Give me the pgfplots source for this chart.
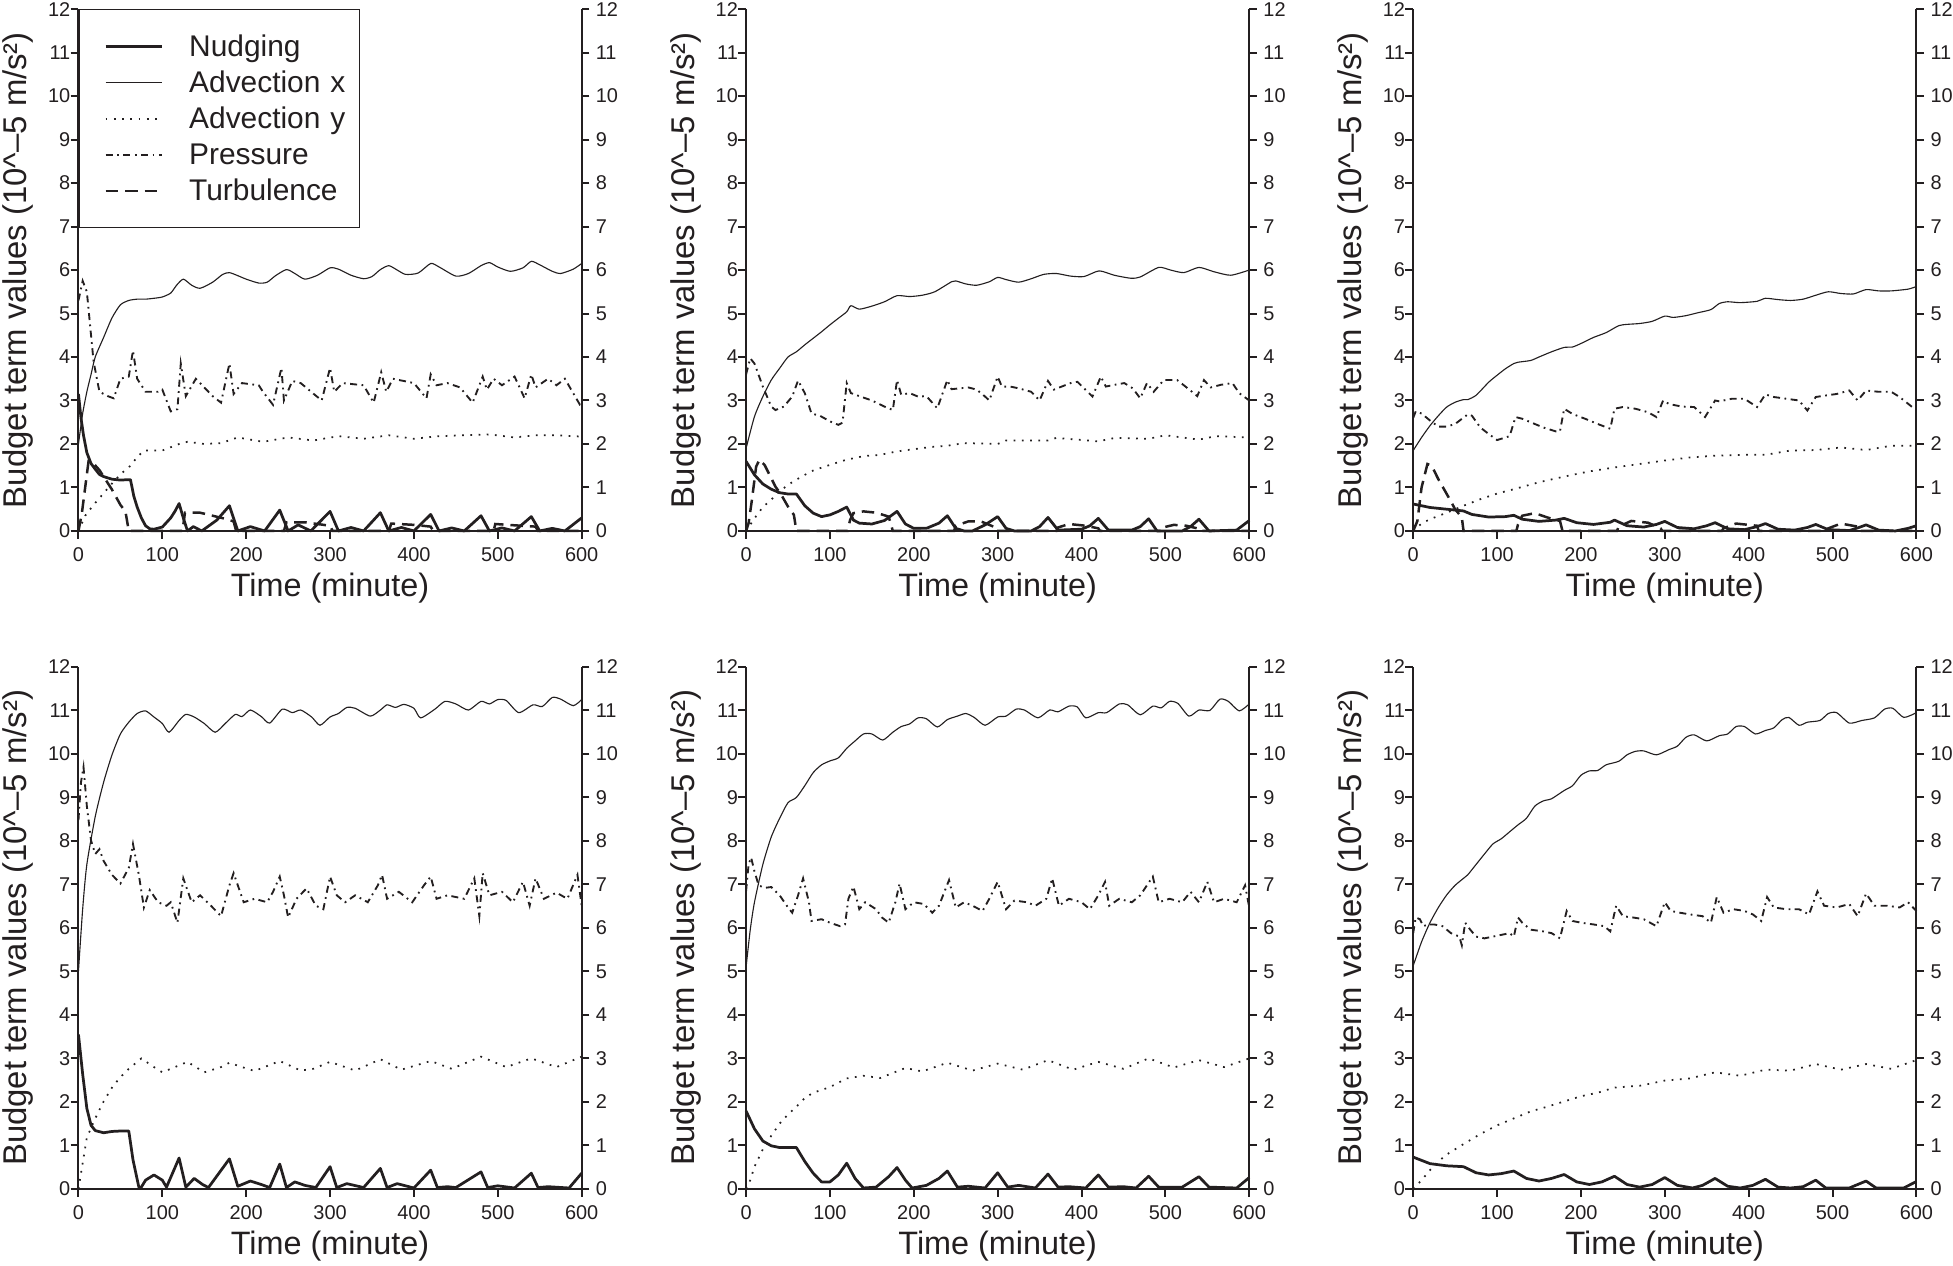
\documentclass[border=0pt]{standalone}
\usepackage{fontspec}
\setmainfont{Liberation Sans}
\usepackage{pgfplots}
\pgfplotsset{compat=1.18}
\definecolor{ink}{RGB}{35,31,32}
\tikzset{
 nud/.style={ink, line width=1.1pt, line join=round},
 advx/.style={ink, line width=0.45pt, smooth, tension=0.4},
 advy/.style={ink, line width=0.7pt, dash pattern=on 0.7pt off 2.6pt},
 pres/.style={ink, line width=0.75pt, dash pattern=on 2.8pt off 1.8pt on 0.7pt off 1.8pt},
 turb/.style={ink, line width=1pt, dash pattern=on 5pt off 2.8pt},
}
\pgfplotsset{
 base/.style={width=202pt,height=209.5pt,scale only axis,
   xmin=0,xmax=600,ymin=0,ymax=12,
   xtick={0,100,...,600}, ytick={0,1,...,12},
   tick align=outside, major tick length=3.1pt,
   tick style={line width=0.8pt, draw=ink},
   axis line style={-, line width=0.8pt, draw=ink},
   /pgf/number format/assume math mode=true,
   tick label style={font=\fontsize{8}{9.6}\selectfont, text=ink},
   clip=false},
 panelL/.style={base, axis x line*=bottom, axis y line*=left,
   yticklabel style={inner xsep=0pt},
   xlabel={Time (minute)},
   ylabel={Budget term values (10\textasciicircum{}–5 m/s²)},
   xlabel style={at={(axis description cs:0.5,-0.1265)}, anchor=base, font=\fontsize{13}{15}\selectfont, text=ink},
   ylabel style={at={(axis description cs:-0.1025,0.5)}, rotate=0, anchor=base, font=\fontsize{13.2}{15}\selectfont, text=ink}},
 panelR/.style={base, axis x line=none, axis y line*=right, xtick=\empty,
   ytick pos=right, yticklabel pos=right, yticklabel style={inner xsep=2.4pt}},
}
\newcommand{\rightaxis}[1]{\begin{axis}[panelR, at={#1}, anchor=south west]\addplot[draw=none] coordinates {(0,0)};\end{axis}}
\begin{document}
\begin{tikzpicture}
\useasboundingbox (0,0) rectangle (784pt,508pt);
% ---------------- Panel 1 ----------------
\begin{axis}[panelL, at={(31.5pt,294.85pt)}, anchor=south west,
  legend style={at={(0,1)}, anchor=north west, draw=ink, line width=0.5pt, fill=white,
    font=\fontsize{12}{14}\selectfont, inner xsep=0pt, inner ysep=7.5pt,
    cells={anchor=west}, nodes={inner sep=0pt, text height=11.25pt, text depth=3.25pt, text width=68.3pt, align=left, text=ink}},
  legend cell align=left,
  legend image code/.code={\path[draw=none,fill=none] (-10.7pt,0pt) -- (33.5pt,0pt); \draw[#1] (0pt,0pt) -- (22.4pt,0pt);}]
\addplot[nud] coordinates {(0,3.15) (3,2.6) (6,2.2) (10,1.8) (15,1.55) (20,1.42) (25,1.3) (30,1.25) (40,1.19) (50,1.17) (60,1.18) (62,1.18) (66,0.8) (70,0.55) (75,0.3) (80,0.12) (85,0.05) (90,0.04) (100,0.09) (110,0.3) (115,0.45) (120,0.63) (125,0.3) (130,0.0) (137,0.1) (147,0.0) (165,0.25) (180,0.58) (190,0.0) (205,0.1) (222,0.0) (240,0.48) (250,0.0) (262,0.14) (277,0.0) (300,0.45) (310,0.0) (325,0.08) (340,0.0) (360,0.42) (370,0.0) (385,0.08) (400,0.0) (420,0.38) (430,0.0) (445,0.07) (460,0.0) (480,0.35) (490,0.0) (505,0.07) (520,0.0) (540,0.33) (550,0.0) (565,0.06) (580,0.0) (600,0.3)};
\addplot[advx] coordinates {(0,2.0) (5,2.7) (10,3.2) (15,3.6) (20,4.0) (30,4.45) (40,4.9) (50,5.2) (60,5.3) (70,5.33) (80,5.33) (90,5.35) (100,5.38) (110,5.47) (117,5.65) (125,5.79) (135,5.65) (145,5.58) (160,5.72) (172,5.9) (180,5.94) (190,5.87) (200,5.79) (215,5.7) (225,5.72) (235,5.87) (248,6.01) (258,5.92) (270,5.79) (285,5.88) (300,6.05) (310,6.02) (325,5.88) (340,5.8) (350,5.85) (360,6.01) (370,6.1) (380,6.0) (390,5.9) (405,5.93) (420,6.15) (430,6.07) (450,5.86) (465,5.92) (480,6.1) (490,6.17) (500,6.07) (515,5.97) (530,6.05) (540,6.2) (550,6.12) (565,5.97) (575,5.92) (590,6.02) (600,6.15)};
\addplot[advy] coordinates {(0,0) (8,0.35) (18,0.6) (27,0.8) (38,1.05) (50,1.3) (62,1.5) (70,1.7) (78,1.85) (100,1.85) (120,2.0) (130,2.05) (150,2.0) (170,2.02) (190,2.15) (220,2.05) (250,2.15) (280,2.08) (310,2.18) (340,2.12) (370,2.2) (400,2.12) (430,2.18) (460,2.2) (490,2.22) (520,2.15) (545,2.2) (570,2.2) (600,2.17)};
\addplot[pres] coordinates {(0,5.3) (5,5.75) (10,5.5) (18,3.9) (25,3.2) (35,3.1) (42,3.05) (50,3.5) (60,3.55) (65,4.15) (70,3.5) (80,3.2) (95,3.2) (100,3.25) (110,2.75) (118,2.8) (122,3.85) (128,3.1) (140,3.5) (160,3.1) (170,2.95) (180,3.85) (185,3.15) (195,3.4) (215,3.35) (220,3.2) (232,2.9) (242,3.75) (245,3.0) (255,3.45) (265,3.4) (290,3.0) (300,3.75) (305,3.2) (315,3.4) (340,3.35) (352,2.95) (361,3.65) (367,3.2) (375,3.5) (400,3.4) (415,3.05) (420,3.6) (427,3.35) (440,3.4) (455,3.3) (470,2.95) (482,3.55) (487,3.25) (495,3.5) (505,3.35) (520,3.55) (532,3.05) (540,3.6) (545,3.3) (560,3.5) (570,3.35) (580,3.5) (598,2.9) (600,2.9)};
\addplot[turb] coordinates {(0,0) (4,0.4) (8,1.0) (12,1.6) (18,1.55) (25,1.4) (30,1.25) (40,0.95) (50,0.6) (56,0.45) (60,0) (124,0) (127,0.42) (145,0.42) (160,0.35) (175,0.28) (185,0.22) (188,0) (245,0) (248,0.2) (270,0.2) (300,0.12) (303,0) (370,0) (373,0.17) (400,0.14) (420,0.1) (423,0) (495,0) (497,0.16) (520,0.13) (545,0.1) (548,0) (600,0)};
\legend{Nudging, Advection x, Advection y, Pressure, Turbulence}
\end{axis}
\rightaxis{(31.5pt,294.85pt)}
% ---------------- Panel 2 ----------------
\begin{axis}[panelL, at={(299.5pt,294.85pt)}, anchor=south west]
\addplot[nud] coordinates {(0,1.6) (10,1.29) (20,1.08) (30,0.96) (40,0.88) (50,0.85) (60,0.85) (70,0.58) (80,0.41) (90,0.33) (100,0.37) (110,0.45) (120,0.55) (128,0.25) (135,0.18) (150,0.16) (165,0.24) (180,0.45) (190,0.16) (200,0.06) (215,0.06) (230,0.18) (240,0.35) (250,0.06) (260,0) (270,0) (285,0.14) (300,0.33) (310,0.06) (320,0) (340,0) (350,0.1) (360,0.31) (372,0.02) (400,0.04) (410,0.12) (420,0.29) (432,0.02) (460,0.02) (470,0.1) (480,0.28) (490,0) (520,0) (530,0.1) (540,0.27) (552,0) (585,0.02) (600,0.24)};
\addplot[advx] coordinates {(0,1.9) (10,2.63) (20,3.09) (30,3.47) (40,3.74) (50,4.0) (60,4.12) (70,4.28) (80,4.43) (90,4.58) (100,4.74) (110,4.89) (120,5.04) (125,5.18) (135,5.1) (150,5.17) (165,5.27) (180,5.41) (195,5.39) (210,5.42) (225,5.5) (245,5.73) (250,5.75) (262,5.68) (275,5.65) (290,5.73) (300,5.83) (310,5.78) (325,5.72) (340,5.8) (355,5.9) (370,5.92) (387,5.86) (403,5.85) (421,5.98) (439,5.88) (459,5.81) (470,5.84) (492,6.06) (506,6.0) (522,5.94) (540,6.06) (558,5.96) (578,5.88) (600,6.0)};
\addplot[advy] coordinates {(0,0) (10,0.29) (20,0.55) (30,0.72) (40,0.91) (50,1.06) (60,1.18) (70,1.29) (80,1.39) (100,1.52) (120,1.64) (140,1.72) (160,1.75) (180,1.83) (200,1.88) (220,1.93) (240,1.96) (260,2.02) (300,2.0) (310,2.08) (360,2.08) (370,2.14) (420,2.06) (440,2.14) (480,2.12) (500,2.2) (540,2.1) (560,2.18) (600,2.15)};
\addplot[pres] coordinates {(0,3.6) (5,3.97) (10,3.85) (20,3.32) (25,3.09) (30,2.86) (35,2.78) (45,2.86) (55,3.09) (62,3.46) (70,3.17) (78,2.7) (88,2.65) (100,2.52) (110,2.44) (115,2.49) (120,3.4) (125,3.17) (135,3.1) (150,3.0) (165,2.86) (175,2.78) (180,3.47) (185,3.13) (195,3.17) (205,3.09) (215,3.1) (228,2.82) (240,3.47) (245,3.26) (255,3.28) (265,3.3) (275,3.25) (285,3.09) (290,3.0) (300,3.55) (305,3.32) (315,3.32) (325,3.28) (340,3.2) (350,3.0) (360,3.45) (367,3.25) (387,3.4) (395,3.43) (403,3.28) (413,3.09) (423,3.55) (429,3.32) (439,3.36) (451,3.4) (461,3.28) (470,3.05) (478,3.4) (486,3.2) (498,3.47) (514,3.47) (524,3.32) (538,3.1) (546,3.47) (554,3.3) (566,3.36) (580,3.4) (588,3.17) (600,3.0)};
\addplot[turb] coordinates {(0,0) (3,0.18) (7,0.72) (12,1.48) (16,1.64) (22,1.52) (28,1.29) (35,1.02) (42,0.83) (50,0.56) (57,0.37) (60,0) (121,0) (124,0.25) (128,0.41) (140,0.45) (155,0.42) (170,0.33) (175,0) (248,0) (250,0.12) (265,0.22) (280,0.22) (295,0.1) (297,0) (370,0) (372,0.08) (385,0.16) (405,0.12) (420,0.06) (422,0) (495,0) (497,0.08) (510,0.14) (525,0.12) (540,0.05) (542,0) (600,0)};
\end{axis}
\rightaxis{(299.5pt,294.85pt)}
% ---------------- Panel 3 ----------------
\begin{axis}[panelL, at={(567.3pt,294.85pt)}, anchor=south west]
\addplot[nud] coordinates {(0,0.62) (20,0.54) (40,0.5) (60,0.46) (70,0.38) (90,0.32) (110,0.33) (120,0.36) (130,0.27) (150,0.22) (170,0.25) (180,0.29) (195,0.19) (215,0.15) (235,0.2) (240,0.25) (255,0.12) (275,0.09) (290,0.15) (300,0.22) (315,0.08) (335,0.05) (350,0.12) (360,0.19) (375,0.05) (395,0.03) (410,0.1) (420,0.17) (435,0.04) (455,0.02) (470,0.08) (480,0.15) (495,0.03) (520,0.01) (530,0.07) (540,0.14) (555,0.02) (575,0.0) (590,0.06) (600,0.12)};
\addplot[advx] coordinates {(0,1.85) (10,2.15) (20,2.42) (30,2.65) (40,2.85) (50,2.96) (60,3.02) (65,3.02) (75,3.12) (90,3.42) (100,3.58) (110,3.73) (120,3.85) (125,3.88) (140,3.92) (150,4.0) (165,4.12) (180,4.22) (190,4.23) (200,4.31) (215,4.45) (230,4.56) (245,4.72) (255,4.75) (270,4.77) (285,4.82) (300,4.94) (310,4.91) (325,4.95) (340,5.02) (355,5.09) (365,5.23) (375,5.27) (390,5.25) (410,5.28) (420,5.35) (435,5.32) (450,5.3) (465,5.33) (480,5.42) (495,5.5) (510,5.46) (525,5.45) (540,5.55) (555,5.52) (570,5.52) (590,5.56) (600,5.62)};
\addplot[advy] coordinates {(0,0) (10,0.17) (20,0.27) (40,0.42) (60,0.58) (80,0.73) (100,0.86) (120,0.96) (150,1.12) (180,1.25) (210,1.37) (240,1.46) (270,1.54) (300,1.62) (330,1.69) (360,1.73) (390,1.75) (420,1.75) (450,1.85) (480,1.86) (510,1.92) (540,1.86) (570,1.96) (600,1.96)};
\addplot[pres] coordinates {(0,2.6) (3,2.75) (10,2.7) (20,2.54) (30,2.4) (40,2.4) (50,2.46) (65,2.68) (70,2.65) (80,2.38) (90,2.23) (100,2.09) (110,2.15) (115,2.18) (122,2.62) (130,2.58) (140,2.5) (155,2.38) (170,2.29) (175,2.29) (180,2.81) (190,2.69) (205,2.58) (220,2.46) (235,2.35) (240,2.81) (250,2.85) (265,2.81) (280,2.73) (290,2.62) (298,3.0) (305,2.92) (320,2.86) (335,2.85) (348,2.62) (360,3.0) (365,2.98) (380,3.04) (395,3.04) (410,2.85) (420,3.14) (430,3.08) (445,3.04) (460,3.0) (470,2.77) (480,3.08) (490,3.11) (505,3.15) (520,3.23) (530,3.0) (540,3.23) (555,3.2) (570,3.2) (580,3.08) (595,2.85) (600,2.85)};
\addplot[turb] coordinates {(0,0) (5,0.23) (10,1.0) (17,1.54) (22,1.5) (30,1.19) (40,0.85) (50,0.5) (58,0.31) (60,0) (123,0) (125,0.15) (130,0.35) (145,0.41) (160,0.31) (175,0.23) (178,0) (243,0) (245,0.1) (260,0.23) (280,0.19) (295,0.06) (297,0) (368,0) (370,0.06) (385,0.17) (410,0.12) (412,0) (493,0) (495,0.06) (510,0.17) (530,0.1) (532,0) (600,0)};
\end{axis}
\rightaxis{(567.3pt,294.85pt)}
% ---------------- Panel 4 ----------------
\begin{axis}[panelL, at={(31.5pt,30.75pt)}, anchor=south west]
\addplot[nud] coordinates {(0,3.55) (5,2.64) (10,1.85) (15,1.46) (20,1.34) (30,1.29) (40,1.32) (50,1.33) (60,1.33) (65,0.67) (72,0.04) (75,0.04) (80,0.2) (90,0.32) (100,0.2) (105,0.04) (120,0.71) (128,0.04) (138,0.24) (148,0.1) (155,0.03) (180,0.69) (190,0.06) (205,0.18) (218,0.1) (228,0.03) (240,0.57) (248,0.03) (258,0.16) (270,0.08) (283,0.03) (300,0.51) (308,0.03) (320,0.12) (340,0.03) (360,0.47) (368,0.03) (380,0.12) (400,0.02) (420,0.43) (428,0.03) (440,0.05) (450,0.03) (480,0.39) (488,0.03) (500,0.07) (520,0.02) (540,0.36) (548,0.03) (560,0.05) (585,0.02) (600,0.36)};
\addplot[advx] coordinates {(0,5.01) (5,6.43) (10,7.46) (20,8.56) (30,9.35) (40,9.98) (50,10.46) (60,10.73) (70,10.93) (80,10.99) (90,10.85) (100,10.7) (108,10.5) (120,10.77) (128,10.91) (138,10.85) (150,10.7) (163,10.5) (175,10.7) (187,10.91) (195,10.86) (205,11.01) (218,10.86) (228,10.71) (243,11.03) (255,10.95) (265,11.01) (278,10.85) (288,10.66) (300,10.85) (310,10.93) (320,11.07) (330,11.05) (348,10.87) (360,11.01) (368,11.13) (378,11.07) (388,11.14) (400,11.05) (408,10.83) (425,11.03) (437,11.21) (450,11.15) (465,11.01) (480,11.21) (490,11.15) (500,11.25) (510,11.23) (525,10.95) (542,11.13) (553,11.09) (565,11.3) (575,11.26) (590,11.11) (600,11.25)};
\addplot[advy] coordinates {(0,0) (5,0.59) (10,1.18) (20,1.62) (30,2.01) (40,2.33) (50,2.57) (60,2.76) (75,3.0) (90,2.8) (100,2.68) (120,2.84) (130,2.92) (150,2.68) (170,2.8) (180,2.9) (195,2.8) (210,2.71) (240,2.94) (265,2.72) (280,2.76) (300,2.92) (330,2.72) (360,2.98) (385,2.74) (420,2.94) (445,2.76) (480,3.04) (510,2.8) (540,3.0) (570,2.8) (600,3.04)};
\addplot[pres] coordinates {(0,8.48) (3,9.35) (6,9.7) (10,8.8) (15,8.01) (20,7.7) (25,7.81) (30,7.54) (40,7.22) (50,7.02) (60,7.38) (65,7.93) (72,7.22) (78,6.47) (85,6.87) (95,6.59) (105,6.51) (110,6.59) (118,6.12) (125,7.14) (135,6.59) (145,6.75) (158,6.51) (170,6.27) (180,6.98) (185,7.26) (197,6.59) (210,6.67) (225,6.59) (232,6.83) (240,7.18) (245,6.75) (250,6.24) (260,6.67) (272,6.91) (283,6.51) (292,6.43) (300,7.18) (308,6.75) (318,6.59) (330,6.75) (345,6.59) (357,6.98) (362,7.22) (368,6.67) (382,6.83) (398,6.59) (412,6.98) (420,7.18) (427,6.67) (440,6.75) (460,6.67) (472,7.14) (478,6.27) (482,7.26) (490,6.75) (505,6.83) (518,6.59) (530,7.06) (538,6.51) (545,7.14) (555,6.67) (570,6.81) (583,6.67) (595,7.22) (600,6.51)};
\addplot[turb] coordinates {(0,0) (600,0)};
\end{axis}
\rightaxis{(31.5pt,30.75pt)}
% ---------------- Panel 5 ----------------
\begin{axis}[panelL, at={(299.5pt,30.75pt)}, anchor=south west]
\addplot[nud] coordinates {(0,1.79) (10,1.38) (20,1.1) (30,0.99) (40,0.95) (60,0.95) (70,0.63) (80,0.36) (90,0.16) (100,0.16) (110,0.32) (120,0.59) (130,0.24) (140,0.02) (155,0.04) (170,0.28) (180,0.49) (190,0.2) (198,0.02) (215,0.08) (230,0.24) (240,0.41) (252,0.04) (265,0.06) (285,0.02) (300,0.37) (312,0.04) (325,0.08) (345,0.02) (360,0.34) (372,0.04) (385,0.05) (405,0.02) (420,0.32) (432,0.04) (450,0.05) (465,0.02) (480,0.29) (492,0.04) (520,0.04) (540,0.28) (552,0.04) (585,0.02) (600,0.26)};
\addplot[advx] coordinates {(0,5.1) (5,5.96) (10,6.59) (20,7.46) (30,8.09) (40,8.52) (50,8.88) (60,9.0) (70,9.27) (80,9.57) (90,9.75) (100,9.84) (110,9.91) (120,10.13) (130,10.3) (140,10.46) (150,10.46) (163,10.32) (175,10.5) (185,10.63) (195,10.69) (205,10.83) (215,10.81) (228,10.62) (240,10.79) (252,10.87) (262,10.93) (272,10.84) (285,10.66) (300,10.85) (310,10.87) (322,11.03) (332,11.01) (348,10.83) (362,11.01) (372,10.97) (385,11.1) (395,11.08) (405,10.83) (420,10.95) (430,10.95) (445,11.15) (455,11.13) (470,10.9) (485,11.1) (495,11.06) (505,11.21) (515,11.16) (528,10.87) (540,11.01) (553,11.0) (565,11.26) (575,11.21) (588,10.99) (600,11.15)};
\addplot[advy] coordinates {(0,0) (5,0.2) (10,0.51) (20,0.91) (30,1.22) (40,1.5) (50,1.71) (60,1.89) (70,2.09) (80,2.21) (100,2.34) (120,2.54) (140,2.6) (160,2.55) (190,2.78) (210,2.7) (240,2.9) (270,2.72) (300,2.88) (330,2.74) (360,2.96) (390,2.74) (420,2.92) (450,2.76) (480,3.0) (510,2.79) (540,2.96) (570,2.8) (600,3.0)};
\addplot[pres] coordinates {(0,6.85) (3,7.46) (6,7.62) (10,7.3) (15,6.98) (22,6.92) (30,6.94) (40,6.75) (50,6.47) (55,6.35) (62,6.75) (68,7.14) (75,6.59) (78,6.16) (90,6.2) (100,6.12) (112,6.04) (118,6.08) (122,6.67) (128,6.95) (135,6.43) (142,6.59) (155,6.43) (162,6.24) (170,6.12) (178,6.59) (183,7.02) (190,6.43) (200,6.59) (212,6.55) (222,6.35) (230,6.51) (242,7.1) (250,6.47) (260,6.59) (270,6.51) (282,6.39) (290,6.67) (300,7.06) (310,6.43) (320,6.63) (335,6.59) (345,6.51) (358,6.67) (365,7.14) (373,6.51) (385,6.67) (400,6.59) (410,6.43) (420,6.75) (428,7.06) (433,6.51) (445,6.67) (460,6.59) (470,6.75) (485,7.18) (492,6.59) (505,6.67) (520,6.59) (530,6.83) (540,6.59) (550,7.06) (558,6.59) (570,6.67) (585,6.59) (595,6.98) (600,6.47)};
\addplot[turb] coordinates {(0,0) (600,0)};
\end{axis}
\rightaxis{(299.5pt,30.75pt)}
% ---------------- Panel 6 ----------------
\begin{axis}[panelL, at={(567.3pt,30.75pt)}, anchor=south west]
\addplot[nud] coordinates {(0,0.73) (20,0.58) (40,0.53) (60,0.51) (75,0.37) (90,0.32) (105,0.35) (120,0.41) (135,0.24) (150,0.18) (165,0.24) (180,0.33) (195,0.16) (210,0.1) (225,0.16) (240,0.29) (255,0.1) (270,0.04) (285,0.1) (300,0.26) (315,0.08) (333,0.02) (345,0.08) (360,0.24) (375,0.06) (390,0.02) (405,0.08) (420,0.22) (435,0.04) (450,0.02) (465,0.05) (480,0.2) (492,0.02) (520,0.02) (540,0.18) (552,0.02) (585,0.02) (600,0.17)};
\addplot[advx] coordinates {(0,5.13) (10,5.68) (20,6.12) (30,6.47) (40,6.76) (50,6.98) (60,7.14) (65,7.22) (75,7.46) (85,7.7) (95,7.93) (105,8.05) (115,8.21) (125,8.37) (135,8.52) (145,8.8) (155,8.92) (165,8.97) (180,9.16) (190,9.27) (200,9.51) (210,9.61) (220,9.62) (230,9.75) (245,9.83) (255,9.98) (265,10.06) (275,10.07) (290,9.98) (305,10.1) (315,10.18) (325,10.38) (335,10.44) (350,10.3) (365,10.42) (375,10.46) (385,10.63) (395,10.63) (408,10.46) (420,10.54) (430,10.6) (440,10.79) (448,10.84) (460,10.66) (470,10.73) (485,10.77) (495,10.93) (505,10.95) (520,10.71) (535,10.77) (550,10.83) (562,11.03) (572,11.05) (585,10.84) (600,10.95)};
\addplot[advy] coordinates {(0,0) (10,0.2) (20,0.43) (30,0.63) (40,0.79) (60,1.03) (80,1.26) (100,1.46) (120,1.62) (140,1.78) (160,1.89) (180,2.01) (200,2.13) (220,2.21) (240,2.33) (270,2.37) (300,2.49) (330,2.54) (360,2.68) (390,2.6) (420,2.74) (450,2.72) (480,2.87) (510,2.74) (540,2.87) (570,2.76) (600,2.96)};
\addplot[pres] coordinates {(0,5.88) (3,6.24) (8,6.2) (12,6.04) (18,6.08) (25,6.08) (35,6.04) (45,5.88) (55,5.8) (58,5.6) (62,6.12) (68,5.96) (75,5.8) (85,5.76) (95,5.8) (105,5.84) (115,5.88) (120,5.8) (125,6.24) (130,6.12) (140,5.96) (155,5.92) (165,5.88) (175,5.76) (183,6.39) (190,6.16) (200,6.12) (215,6.08) (228,6.04) (235,5.92) (242,6.51) (250,6.27) (262,6.24) (275,6.2) (290,6.04) (300,6.59) (307,6.39) (318,6.35) (330,6.31) (345,6.27) (355,6.12) (362,6.71) (370,6.35) (382,6.43) (395,6.39) (405,6.31) (415,6.16) (422,6.71) (430,6.47) (445,6.43) (460,6.43) (472,6.31) (482,6.84) (490,6.51) (505,6.47) (520,6.55) (530,6.27) (540,6.79) (550,6.51) (565,6.51) (580,6.47) (590,6.59) (600,6.39)};
\addplot[turb] coordinates {(0,0) (600,0)};
\end{axis}
\rightaxis{(567.3pt,30.75pt)}
\end{tikzpicture}
\end{document}
